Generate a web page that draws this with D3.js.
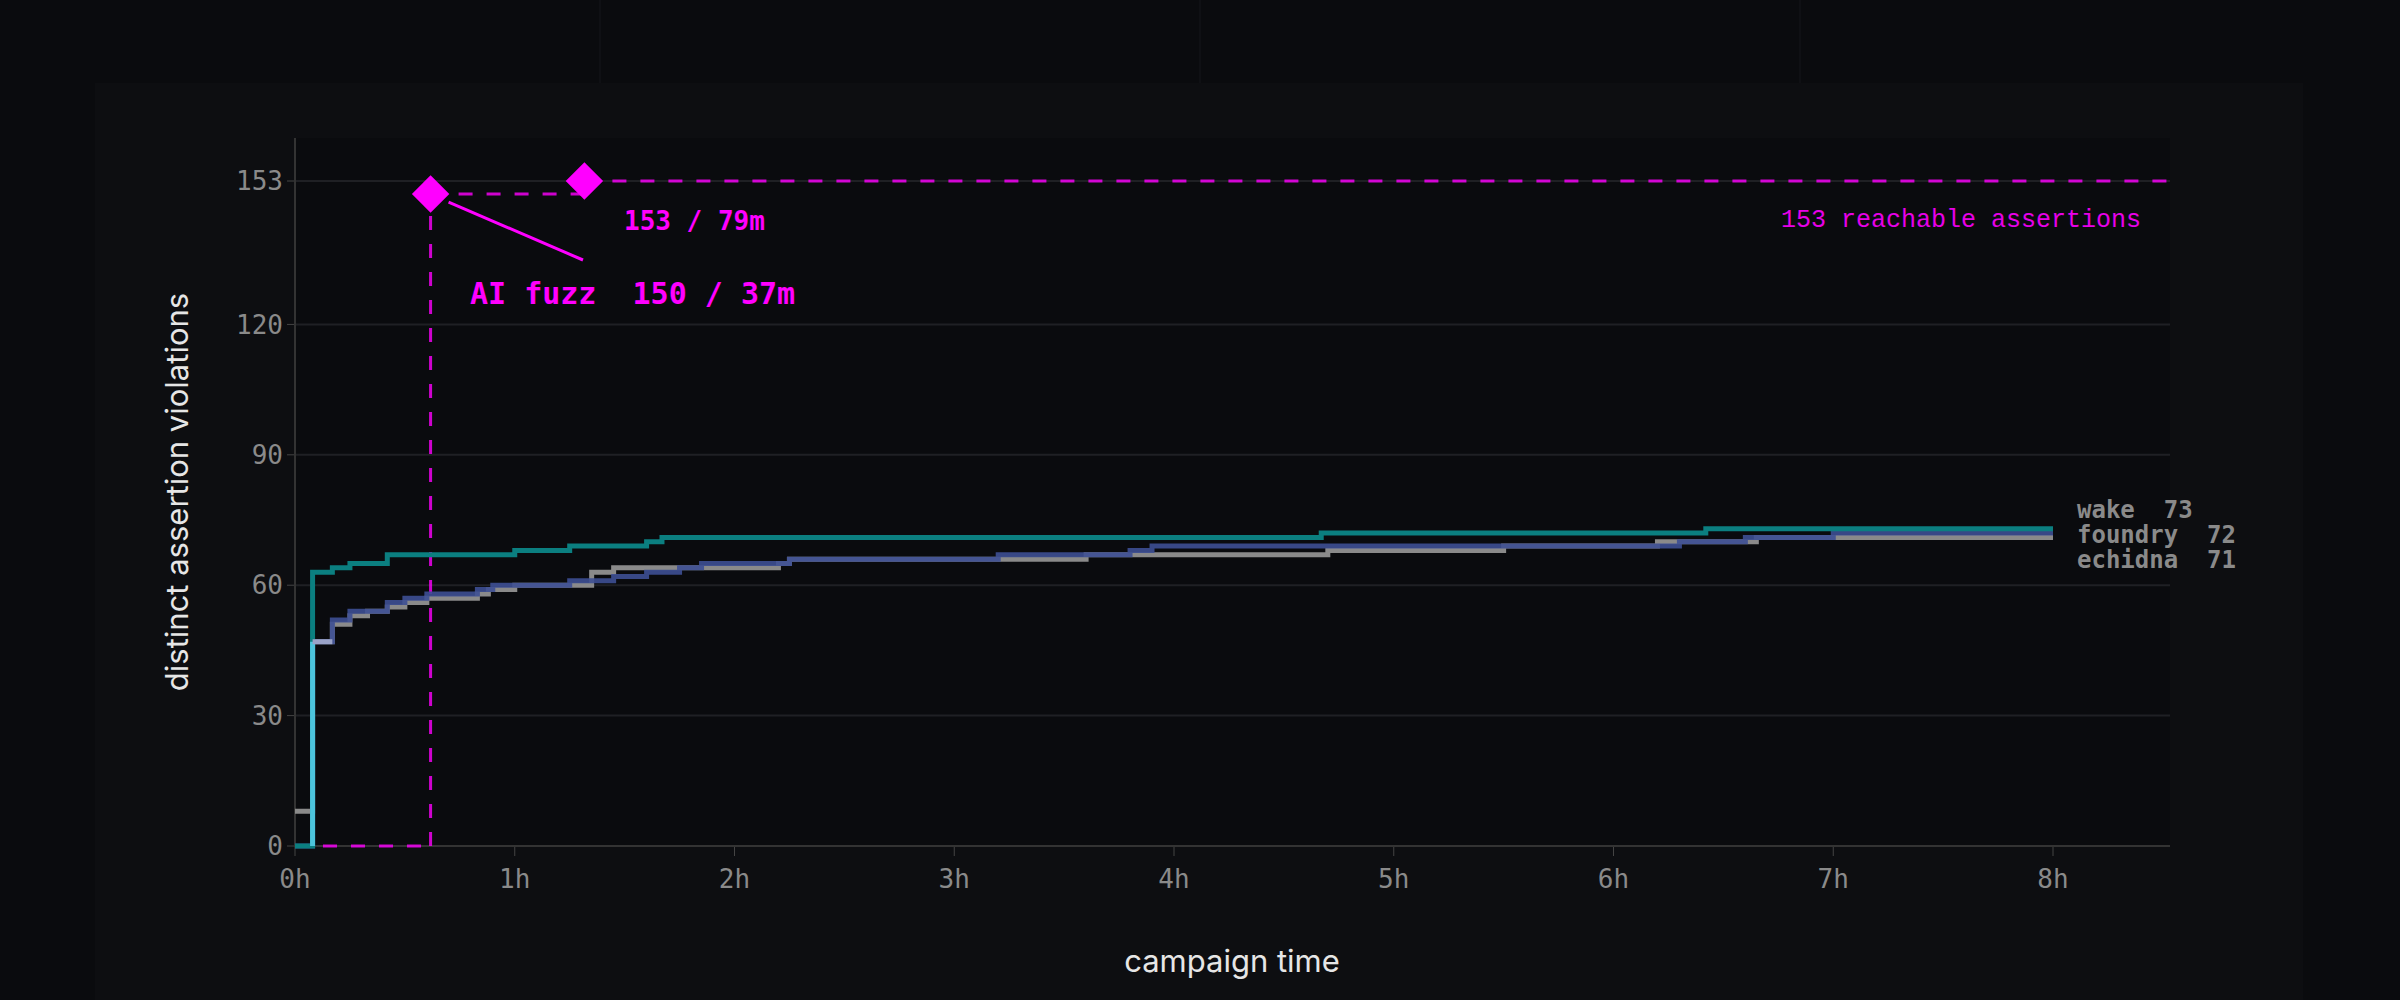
<!DOCTYPE html>
<html><head><meta charset="utf-8">
<script src="https://cdn.jsdelivr.net/npm/d3@7"></script>
<style>body{margin:0;background:#0a0b0e}svg{display:block}</style></head>
<body><svg id="c" width="2400" height="1000"></svg>
<script>
const xTicks=[0,1,2,3,4,5,6,7,8];
const xTickLabels=["0h","1h","2h","3h","4h","5h","6h","7h","8h"];
const yTicks=[0,30,60,90,120,153];
const wake=[[0,0],[0.08,63],[0.17,64],[0.25,65],[0.42,67],[1.0,68],[1.25,69],[1.6,70],[1.67,71],[4.67,72],[6.42,73],[8,73]];
const foundry=[[0,0],[0.08,47],[0.17,52],[0.25,54],[0.42,56],[0.5,57],[0.6,58],[0.83,59],[0.9,60],[1.25,61],[1.45,62],[1.6,63],[1.75,64],[1.85,65],[2.25,66],[3.2,67],[3.8,68],[3.9,69],[6.3,70],[6.6,71],[7.0,72],[8,72]];
const echidna=[[0,8],[0.08,47],[0.17,51],[0.25,53],[0.33,54],[0.42,55],[0.5,56],[0.6,57],[0.83,58],[0.88,59],[1.0,60],[1.35,63],[1.45,64],[2.2,65],[2.25,66],[3.2,66],[3.6,67],[4.7,68],[5.5,69],[6.2,70],[6.65,71],[8,71]];
const aiStart=[[0,0],[0.617,0]];
const aiPoints=[[0.617,150],[1.317,153]];
const endLabels=["wake  73","foundry  72","echidna  71"];

const svg=d3.select("#c");
svg.append("rect").attr("x",95).attr("y",83).attr("width",2208).attr("height",917).attr("fill","#0d0e11");
[600,1200,1800].forEach(v=>svg.append("line").attr("x1",v).attr("x2",v).attr("y1",0).attr("y2",83).attr("stroke","#15161a"));
const L=295,R=2170,T=138,B=846;
svg.append("rect").attr("x",L).attr("y",T).attr("width",R-L).attr("height",B-T).attr("fill","#0a0b0e");
const x=d3.scaleLinear().domain([0,8]).range([295,2053]);
const y=d3.scaleLinear().domain([0,153]).range([846,181]);
const mono="'DejaVu Sans Mono', monospace";
const g=svg.append("g");
yTicks.forEach(t=>{
  g.append("line").attr("x1",L).attr("x2",R).attr("y1",y(t)).attr("y2",y(t)).attr("stroke","#1f2024").attr("stroke-width",2);
  g.append("line").attr("x1",L-8).attr("x2",L).attr("y1",y(t)).attr("y2",y(t)).attr("stroke","#444");
  g.append("text").attr("x",L-12).attr("y",y(t)).attr("dy","0.35em").attr("text-anchor","end").attr("fill","#8a8a8a").attr("font-family",mono).attr("font-size",26).text(t);
});
xTicks.forEach((t,i)=>{
  g.append("line").attr("x1",x(t)).attr("x2",x(t)).attr("y1",B).attr("y2",B+10).attr("stroke","#444");
  g.append("text").attr("x",x(t)).attr("y",B+42).attr("text-anchor","middle").attr("fill","#8a8a8a").attr("font-family",mono).attr("font-size",26).text(xTickLabels[i]);
});
g.append("line").attr("x1",L).attr("x2",L).attr("y1",T).attr("y2",B).attr("stroke","#333").attr("stroke-width",2);
g.append("line").attr("x1",L).attr("x2",R).attr("y1",B).attr("y2",B).attr("stroke","#333").attr("stroke-width",2);
svg.append("text").attr("transform",`translate(188,${(T+B)/2}) rotate(-90)`).attr("text-anchor","middle").attr("fill","#e6e6e6").attr("font-family","Inter, sans-serif").attr("font-size",31).text("distinct assertion violations");
svg.append("text").attr("x",1232).attr("y",972).attr("text-anchor","middle").attr("fill","#e6e6e6").attr("font-family","Inter, sans-serif").attr("font-size",31).text("campaign time");

const line=d3.line().x(d=>x(d[0])).y(d=>y(d[1])).curve(d3.curveStepAfter);
const mag="#ff00ff";
const dash=(sel)=>sel.attr("stroke",mag).attr("stroke-width",3).attr("stroke-dasharray","14,14").attr("opacity",0.8).attr("fill","none");
dash(g.append("path").attr("d",line(aiStart)));
dash(g.append("line").attr("x1",x(aiPoints[0][0])).attr("x2",x(aiPoints[0][0])).attr("y1",y(0)).attr("y2",y(aiPoints[0][1])));
dash(g.append("line").attr("x1",x(aiPoints[0][0])).attr("x2",x(aiPoints[1][0])).attr("y1",y(aiPoints[0][1])).attr("y2",y(aiPoints[0][1])));
dash(g.append("line").attr("x1",x(aiPoints[1][0])).attr("x2",R).attr("y1",y(153)).attr("y2",y(153)));

g.append("path").attr("d",line(echidna)).attr("fill","none").attr("stroke","#8a8a8a").attr("stroke-width",5);
g.append("path").attr("d",line(foundry)).attr("fill","none").attr("stroke","#3d4f93").attr("stroke-width",5).attr("opacity",0.9);
g.append("path").attr("d",line(wake)).attr("fill","none").attr("stroke","#0b7f80").attr("stroke-width",5);
g.append("line").attr("x1",x(0.08)).attr("x2",x(0.08)).attr("y1",y(0)).attr("y2",y(47)).attr("stroke","#4cc4dc").attr("stroke-width",5);
g.append("path").attr("d",line([[0.08,47],[0.17,47]])).attr("stroke","#9aa3c8").attr("stroke-width",5);

const sym=d3.symbol().type(d3.symbolSquare).size(700);
aiPoints.forEach(p=>g.append("path").attr("d",sym()).attr("transform",`translate(${x(p[0])},${y(p[1])}) rotate(45)`).attr("fill",mag));
g.append("line").attr("x1",x(aiPoints[0][0])+18).attr("y1",y(aiPoints[0][1])+8).attr("x2",583).attr("y2",260).attr("stroke",mag).attr("stroke-width",3);
g.append("text").attr("x",624).attr("y",230).attr("fill",mag).attr("font-family",mono).attr("font-weight","bold").attr("font-size",26).text("153 / 79m");
g.append("text").attr("x",470).attr("y",304).attr("fill",mag).attr("font-family",mono).attr("font-weight","bold").attr("font-size",30).attr("xml:space","preserve").text("AI fuzz  150 / 37m");
g.append("text").attr("x",2141).attr("y",227).attr("text-anchor","end").attr("fill",mag).attr("font-family","'Liberation Mono', monospace").attr("font-size",25).attr("opacity",0.9).text("153 reachable assertions");
endLabels.forEach((d,i)=>{
  g.append("text").attr("x",2077).attr("y",518+i*25).attr("fill","#8a8a8a").attr("font-family",mono).attr("font-weight","bold").attr("font-size",24).attr("xml:space","preserve").text(d);
});
</script></body></html>
